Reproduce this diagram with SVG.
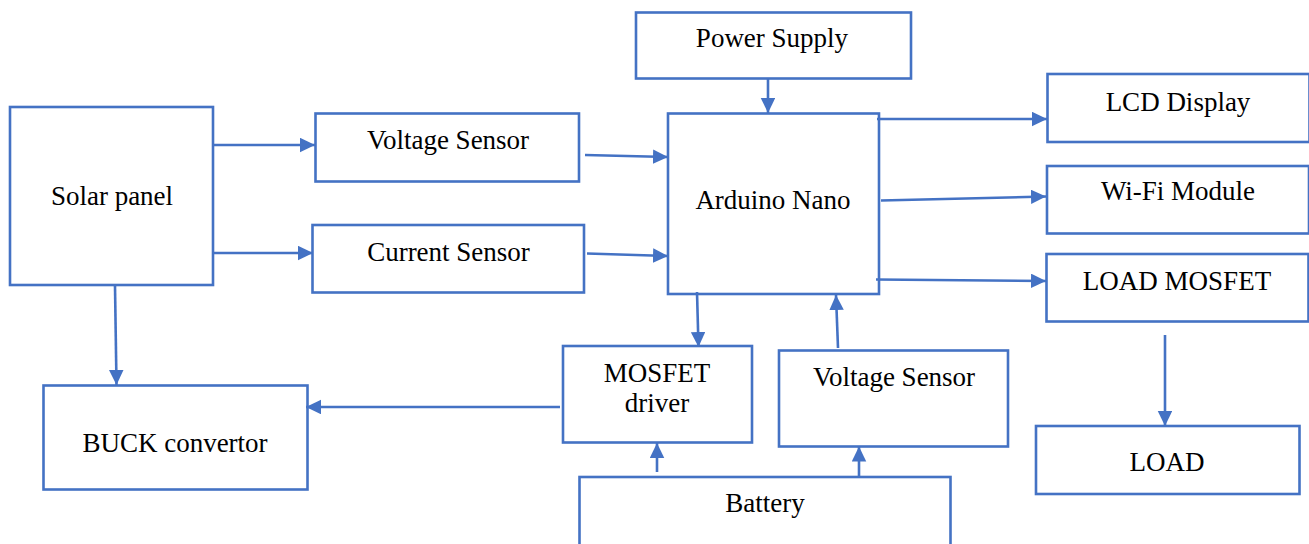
<svg xmlns="http://www.w3.org/2000/svg" width="1309" height="544" viewBox="0 0 1309 544">
<style>
.box{fill:#fff;stroke:#4472C4;stroke-width:2.6}
.lbl{font-family:"Liberation Serif","Times New Roman",serif;font-size:27px;fill:#000;text-anchor:middle}
.con{stroke:#4472C4;stroke-width:2.6;fill:none;marker-end:url(#ah)}
</style>
<defs>
<marker id="ah" markerUnits="userSpaceOnUse" markerWidth="16" markerHeight="15" refX="15" refY="7.25" orient="auto">
<path d="M0,0 L15,7.25 L0,14.5 z" fill="#4472C4"/>
</marker>
</defs>
<rect width="1309" height="544" fill="#fff"/>
<g id="solar"><rect class="box" x="10" y="107" width="203" height="178"/><text class="lbl" x="112" y="205">Solar panel</text></g>
<g id="vsensor1"><rect class="box" x="315.5" y="113.5" width="263.5" height="68"/><text class="lbl" x="448" y="149">Voltage Sensor</text></g>
<g id="csensor"><rect class="box" x="312.5" y="225" width="271.5" height="67.5"/><text class="lbl" x="448.5" y="261">Current Sensor</text></g>
<g id="power"><rect class="box" x="636" y="12.5" width="275" height="66"/><text class="lbl" x="772" y="47">Power Supply</text></g>
<g id="arduino"><rect class="box" x="668" y="113.5" width="211" height="180.5"/><text class="lbl" x="773" y="209">Arduino Nano</text></g>
<g id="lcd"><rect class="box" x="1047.5" y="74" width="262" height="68"/><text class="lbl" x="1178" y="111">LCD Display</text></g>
<g id="wifi"><rect class="box" x="1047" y="166" width="262" height="67.5"/><text class="lbl" x="1178" y="200">Wi-Fi Module</text></g>
<g id="loadmosfet"><rect class="box" x="1046.5" y="254" width="262" height="67.5"/><text class="lbl" x="1177" y="290">LOAD MOSFET</text></g>
<g id="load"><rect class="box" x="1036" y="426" width="263.5" height="68"/><text class="lbl" x="1167" y="471">LOAD</text></g>
<g id="buck"><rect class="box" x="43.5" y="385.5" width="264" height="104"/><text class="lbl" x="175" y="452">BUCK convertor</text></g>
<g id="mosfetdriver"><rect class="box" x="563" y="346" width="189" height="96.5"/><text class="lbl" x="657" y="382">MOSFET</text><text class="lbl" x="657" y="412">driver</text></g>
<g id="vsensor2"><rect class="box" x="779" y="350.5" width="229" height="96"/><text class="lbl" x="894" y="386">Voltage Sensor</text></g>
<g id="battery"><rect class="box" x="579.5" y="477" width="371" height="90"/><text class="lbl" x="765" y="512">Battery</text></g>
<g id="connectors">
<line class="con" x1="212" y1="145" x2="315" y2="145"/>
<line class="con" x1="213" y1="253" x2="313" y2="253"/>
<line class="con" x1="115" y1="286" x2="116.5" y2="385"/>
<line class="con" x1="768" y1="79" x2="768" y2="113"/>
<line class="con" x1="585" y1="155" x2="668" y2="157"/>
<line class="con" x1="587" y1="253.5" x2="668" y2="256"/>
<line class="con" x1="877" y1="119" x2="1047" y2="119"/>
<line class="con" x1="881" y1="200.5" x2="1046" y2="196.5"/>
<line class="con" x1="876" y1="279.5" x2="1046" y2="281"/>
<line class="con" x1="1165" y1="335" x2="1165" y2="426"/>
<line class="con" x1="697" y1="292" x2="698.5" y2="347"/>
<line class="con" x1="560" y1="407" x2="306" y2="407"/>
<line class="con" x1="838" y1="348" x2="836" y2="295"/>
<line class="con" x1="657" y1="472" x2="657" y2="443"/>
<line class="con" x1="859" y1="477" x2="859" y2="446.5"/>
</g>
</svg>
